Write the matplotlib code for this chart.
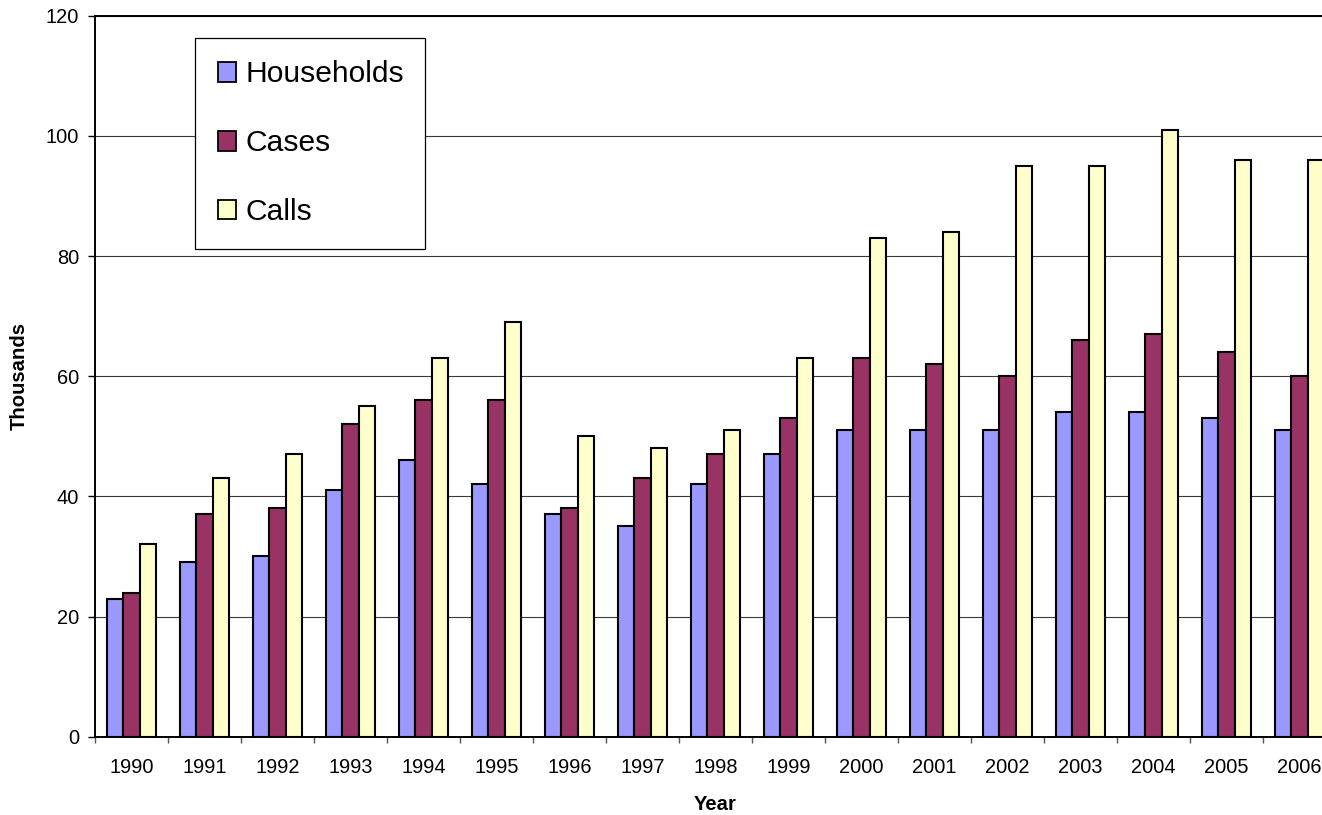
import numpy as np
import matplotlib
matplotlib.use("Agg")
import matplotlib.pyplot as plt
from matplotlib.transforms import IdentityTransform

plt.rcParams['font.family'] = ['Liberation Sans', 'DejaVu Sans']

years = ['1990', '1991', '1992', '1993', '1994', '1995', '1996', '1997', '1998',
         '1999', '2000', '2001', '2002', '2003', '2004', '2005', '2006']
households = [23, 29, 30, 41, 46, 42, 37, 35, 42, 47, 51, 51, 51, 54, 54, 53, 51]
cases = [24, 37, 38, 52, 56, 56, 38, 43, 47, 53, 63, 62, 60, 66, 67, 64, 60]
calls = [32, 43, 47, 55, 63, 69, 50, 48, 51, 63, 83, 84, 95, 95, 101, 96, 96]
series_names = ['Households', 'Cases', 'Calls']
series_colors = ['#9999FF', '#993366', '#FFFFCC']
y_ticks = [0, 20, 40, 60, 80, 100, 120]

W, H = 1322, 815
fig = plt.figure(figsize=(W / 100, H / 100), dpi=100)
ax = fig.add_axes([95 / W, (H - 736.7) / H, (1336 - 95) / W, 721 / H])

x = np.arange(len(years))
bw = 0.223
for i, (vals, name, col) in enumerate(zip([households, cases, calls], series_names, series_colors)):
    ax.bar(x + (i - 1) * bw, vals, width=bw, color=col, edgecolor='black',
           linewidth=1.5, label=name, zorder=3)

ax.set_xlim(-0.5, len(years) - 0.5)
ax.set_ylim(0, 120)
ax.set_yticks(y_ticks)
ax.set_yticklabels([str(v) for v in y_ticks])
ax.yaxis.grid(True, color='#3a3a3a', linewidth=0.8, zorder=0)
ax.set_axisbelow(True)

ax.set_xticks(x)
ax.set_xticklabels(years)
ax.set_xticks(np.arange(len(years) + 1) - 0.5, minor=True)
ax.tick_params(axis='x', which='major', length=0, pad=15.5, labelsize=14.4)
ax.tick_params(axis='x', which='minor', length=4.5, width=1, color='#555555')
ax.tick_params(axis='y', which='major', length=5, width=1, pad=6.5, labelsize=14.4)

for side in ['left', 'bottom', 'top']:
    ax.spines[side].set_linewidth(1.4)
    ax.spines[side].set_color('black')
ax.spines['right'].set_visible(False)

ax.set_xlabel('Year', fontsize=14.6, fontweight='bold', labelpad=13)
ax.set_ylabel('Thousands', fontsize=14.6, fontweight='bold', labelpad=12.5)

leg = ax.legend(loc='upper left', bbox_to_anchor=(195, H - 247, 230, 209),
                bbox_transform=IdentityTransform(), mode='expand', borderaxespad=0,
                fontsize=21.6, handlelength=0.63, handleheight=0.63,
                handletextpad=0.3, labelspacing=1.36, borderpad=0.75,
                fancybox=False, framealpha=1, edgecolor='black')
leg.get_frame().set_linewidth(0.9)
for h in leg.legend_handles:
    h.set_linewidth(1.3)

fig.savefig('out.png', dpi=100)
